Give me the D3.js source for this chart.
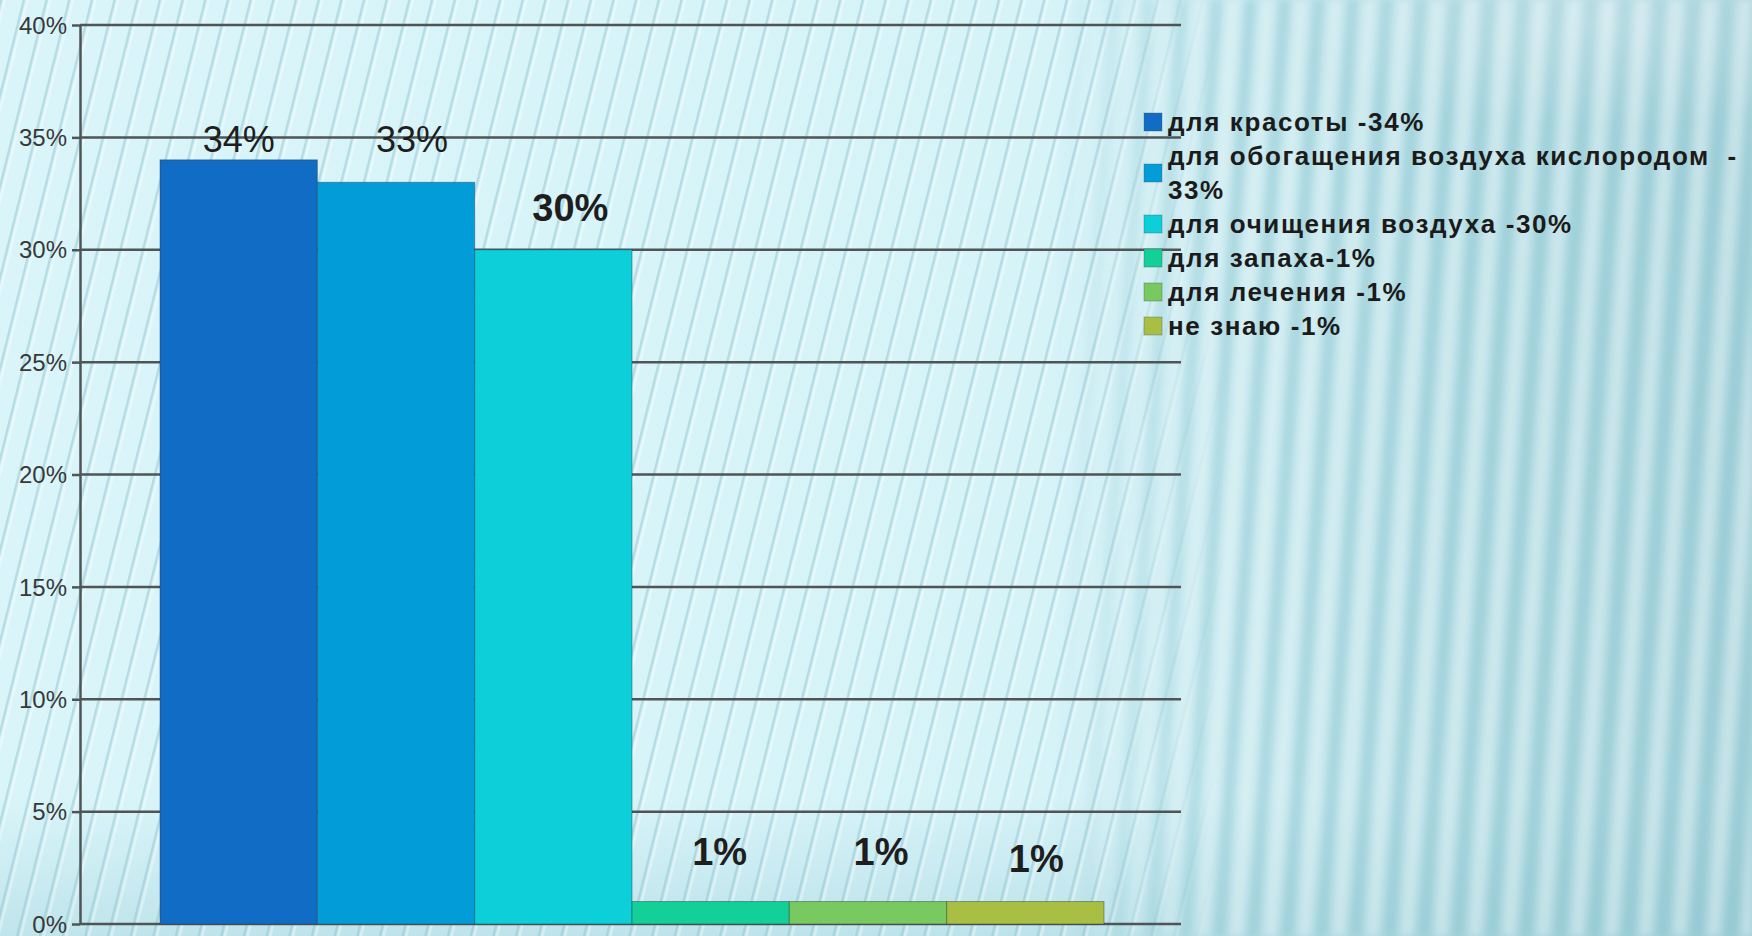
<!DOCTYPE html>
<html>
<head>
<meta charset="utf-8">
<script src="https://cdn.jsdelivr.net/npm/d3@7/dist/d3.min.js"></script>
<style>
  html, body { margin: 0; padding: 0; background: #d6f3f7; }
  svg { display: block; }
  .leg { white-space: pre; }
</style>
</head>
<body>
<svg id="chart" width="1752" height="936"></svg>
<script>
// ---- data ----
const categories = ["для красоты", "для обогащения воздуха кислородом", "для очищения воздуха", "для запаха", "для лечения", "не знаю"];
const values = [34, 33, 30, 1, 1, 1];
const valueLabels = ["34%", "33%", "30%", "1%", "1%", "1%"];
const legendLabels = ["для красоты -34%", "для обогащения воздуха кислородом  -33%", "для очищения воздуха -30%", "для запаха-1%", "для лечения -1%", "не знаю -1%"];
const yTicks = [0, 5, 10, 15, 20, 25, 30, 35, 40];
const yTickLabels = ["0%", "5%", "10%", "15%", "20%", "25%", "30%", "35%", "40%"];

// ---- styles / layout ----
const colors = ["#106cc4", "#029dd8", "#0ccfda", "#13cf98", "#78c95f", "#a9bf43"];
const W = 1752, H = 936;
const axisX = 80, gridRight = 1181, yTop = 25, yBottom = 924;
const labelStyle = [
  {dx: 0, lift: 8, size: 36, weight: "normal"},
  {dx: 16, lift: 30, size: 36, weight: "normal"},
  {dx: 17, lift: 29, size: 38, weight: "bold"},
  {dx: 9, lift: 37, size: 38, weight: "bold"},
  {dx: 13, lift: 37, size: 38, weight: "bold"},
  {dx: 11, lift: 30, size: 38, weight: "bold"}
];

const svg = d3.select("#chart");
const defs = svg.append("defs");

// ---- background ----
const bgGrad = defs.append("linearGradient").attr("id", "bgGrad")
  .attr("x1", 0).attr("y1", 0).attr("x2", 1).attr("y2", 0);
[[0, "#d9f5f9"], [0.6, "#d6f3f8"], [0.7, "#c4e8ee"], [0.85, "#b3dde4"], [1, "#a9d5dd"]]
  .forEach(([o, c]) => bgGrad.append("stop").attr("offset", o).attr("stop-color", c));
svg.append("rect").attr("width", W).attr("height", H).attr("fill", "url(#bgGrad)");

// bottom darker band
const vGrad = defs.append("linearGradient").attr("id", "vGrad")
  .attr("x1", 0).attr("y1", 0).attr("x2", 0).attr("y2", 1);
[[0, "#8fc6d1", 0], [0.85, "#8fc6d1", 0], [1, "#8fc6d1", 0.35]]
  .forEach(([o, c, a]) => vGrad.append("stop").attr("offset", o).attr("stop-color", c).attr("stop-opacity", a));
svg.append("rect").attr("width", W).attr("height", H).attr("fill", "url(#vGrad)");

// thin slanted lines (left area)
const thin = defs.append("pattern").attr("id", "thinLines")
  .attr("patternUnits", "userSpaceOnUse").attr("width", 22).attr("height", 40)
  .attr("patternTransform", "rotate(14)");
thin.append("rect").attr("x", 0).attr("width", 2.5).attr("height", 40).attr("fill", "#8fc4cf").attr("fill-opacity", 0.5);
thin.append("rect").attr("x", 3).attr("width", 3).attr("height", 40).attr("fill", "#ffffff").attr("fill-opacity", 0.35);

const leftMaskGrad = defs.append("linearGradient").attr("id", "leftMaskGrad")
  .attr("x1", 0).attr("y1", 0).attr("x2", 1).attr("y2", 0);
[[0, 1], [0.62, 1], [0.7, 0]].forEach(([o, a]) =>
  leftMaskGrad.append("stop").attr("offset", o).attr("stop-color", "#fff").attr("stop-opacity", a));
defs.append("mask").attr("id", "leftMask").attr("maskUnits", "userSpaceOnUse")
  .attr("x", 0).attr("y", 0).attr("width", W).attr("height", H)
  .append("rect").attr("width", W).attr("height", H).attr("fill", "url(#leftMaskGrad)");
svg.append("rect").attr("width", W).attr("height", H).attr("fill", "url(#thinLines)").attr("mask", "url(#leftMask)");

// broad soft stripes (right area)
const broad = defs.append("pattern").attr("id", "broadLines")
  .attr("patternUnits", "userSpaceOnUse").attr("width", 34).attr("height", 40)
  .attr("patternTransform", "rotate(4)");
broad.append("rect").attr("x", 0).attr("width", 13).attr("height", 40).attr("fill", "#ffffff").attr("fill-opacity", 0.32);
broad.append("rect").attr("x", 18).attr("width", 11).attr("height", 40).attr("fill", "#7dbcc8").attr("fill-opacity", 0.3);
defs.append("filter").attr("id", "soft").attr("x", 0).attr("y", 0).attr("width", 1).attr("height", 1)
  .append("feGaussianBlur").attr("stdDeviation", 3);
const rightMaskGrad = defs.append("linearGradient").attr("id", "rightMaskGrad")
  .attr("x1", 0).attr("y1", 0).attr("x2", 1).attr("y2", 0);
[[0, 0], [0.6, 0], [0.7, 1], [1, 1]].forEach(([o, a]) =>
  rightMaskGrad.append("stop").attr("offset", o).attr("stop-color", "#fff").attr("stop-opacity", a));
defs.append("mask").attr("id", "rightMask").attr("maskUnits", "userSpaceOnUse")
  .attr("x", 0).attr("y", 0).attr("width", W).attr("height", H)
  .append("rect").attr("width", W).attr("height", H).attr("fill", "url(#rightMaskGrad)");
svg.append("g").attr("mask", "url(#rightMask)")
  .append("rect").attr("width", W).attr("height", H).attr("fill", "url(#broadLines)").attr("filter", "url(#soft)");

// bright swoosh top right
const swGrad = defs.append("radialGradient").attr("id", "swGrad")
  .attr("cx", 0.5).attr("cy", 0.5).attr("r", 0.5);
[[0, "#ffffff", 0.25], [1, "#ffffff", 0]].forEach(([o, c, a]) =>
  swGrad.append("stop").attr("offset", o).attr("stop-color", c).attr("stop-opacity", a));
svg.append("ellipse").attr("cx", 1600).attr("cy", 20).attr("rx", 320).attr("ry", 110).attr("fill", "url(#swGrad)");

// ---- scales ----
const y = d3.scaleLinear().domain([0, 40]).range([yBottom, yTop]);
const x = d3.scaleBand().domain(categories).range([160, 1104]).padding(0);

// ---- grid ----
svg.append("g").selectAll("line").data(yTicks).join("line")
  .attr("x1", axisX).attr("x2", gridRight)
  .attr("y1", d => y(d)).attr("y2", d => y(d))
  .attr("stroke", "#4f5456").attr("stroke-width", 2.5);

// ---- y axis ----
const yAxis = d3.axisLeft(y).tickValues(yTicks).tickFormat((d, i) => yTickLabels[i]).tickSize(8).tickSizeOuter(0);
const gAxis = svg.append("g").attr("transform", `translate(${axisX},0)`).call(yAxis);
gAxis.select(".domain").attr("stroke", "#4f5456").attr("stroke-width", 2.5);
gAxis.selectAll(".tick line").attr("stroke", "#4f5456").attr("stroke-width", 2.5);
gAxis.selectAll(".tick text")
  .attr("x", -13).attr("dy", "0.34em")
  .attr("font-family", "Liberation Sans, Arial, sans-serif")
  .attr("font-size", 24).attr("fill", "#383838");

// ---- bars ----
svg.append("g").selectAll("rect").data(values).join("rect")
  .attr("x", (d, i) => x(categories[i]))
  .attr("y", d => y(d))
  .attr("width", x.bandwidth())
  .attr("height", d => y(0) - y(d))
  .attr("fill", (d, i) => colors[i])
  .attr("stroke", "rgba(40,60,70,0.45)").attr("stroke-width", 1);

// ---- value labels ----
svg.append("g").selectAll("text").data(values).join("text")
  .attr("x", (d, i) => x(categories[i]) + x.bandwidth() / 2 + labelStyle[i].dx)
  .attr("y", (d, i) => y(d) - labelStyle[i].lift)
  .attr("text-anchor", "middle")
  .attr("font-family", "Liberation Sans, Arial, sans-serif")
  .attr("font-size", (d, i) => labelStyle[i].size)
  .attr("font-weight", (d, i) => labelStyle[i].weight)
  .attr("fill", "#1e1e1e")
  .text((d, i) => valueLabels[i]);

// ---- legend ----
const legX = 1144, legTextX = 1168, legBase = 131, lineH = 34, legMax = 586;
const legend = svg.append("g");
let line = 0;
legendLabels.forEach((label, i) => {
  const t = legend.append("text").attr("class", "leg")
    .attr("font-family", "Liberation Sans, Arial, sans-serif")
    .attr("font-size", 26).attr("font-weight", "bold")
    .attr("letter-spacing", "1.6")
    .attr("fill", "#1b1b1b");
  const tokens = label.split(/(?<=[\s-])/);
  const lines = [];
  let cur = "";
  tokens.forEach(tok => {
    const test = cur + tok;
    t.text(test.trimEnd());
    if (cur && t.node().getComputedTextLength() > legMax) { lines.push(cur); cur = tok; }
    else cur = test;
  });
  lines.push(cur);
  t.text(null);
  lines.forEach((ln, j) => {
    t.append("tspan").attr("x", legTextX).attr("y", legBase + (line + j) * lineH).text(ln.trimEnd());
  });
  const midY = legBase + (line + (lines.length - 1) / 2) * lineH - 9;
  legend.append("rect")
    .attr("x", legX).attr("y", midY - 9).attr("width", 18).attr("height", 18)
    .attr("fill", colors[i]).attr("stroke", "rgba(60,80,90,0.35)").attr("stroke-width", 1);
  line += lines.length;
});
</script>
</body>
</html>
